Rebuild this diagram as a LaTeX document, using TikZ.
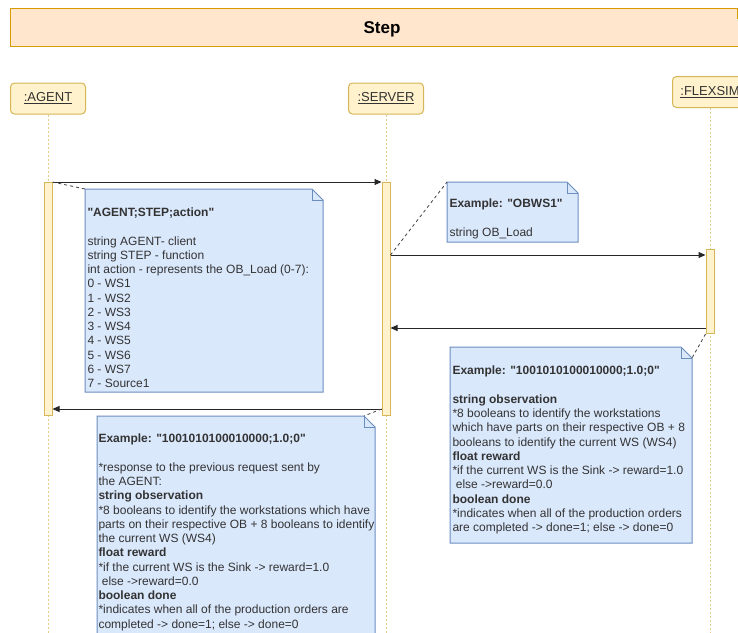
\documentclass[tikz,border=0pt]{standalone}
\usepackage{fontspec}
\setmainfont{Liberation Sans}
\usepackage{tikz}
\usetikzlibrary{positioning,arrows.meta,calc}
\definecolor{titlefill}{HTML}{FFE6CC}
\definecolor{titleline}{HTML}{D79B00}
\definecolor{headfill}{HTML}{FFF2CC}
\definecolor{headline}{HTML}{D6B656}
\definecolor{notefill}{HTML}{DAE8FC}
\definecolor{noteline}{HTML}{6C8EBF}
\definecolor{txt}{HTML}{333333}
\newcommand{\dq}{\textquotedbl}

\begin{document}
\begin{tikzpicture}[
    x=1pt, y=-1pt,
    >={Triangle[length=7pt,width=6pt]},
    line width=1pt,
    titlebar/.style={
        draw=titleline,
        fill=titlefill,
        minimum width=744pt,
        minimum height=38pt,
        font=\fontsize{17}{20}\selectfont\bfseries
    },
    head/.style={draw=headline, fill=headfill, rounded corners=4pt,
                 minimum width=75pt, minimum height=31pt, text=txt,
                 font=\fontsize{13}{15}\selectfont},
    actbar/.style={draw=headline, fill=headfill, minimum width=8pt,
                   inner sep=0pt, anchor=north},
    lifeline/.style={draw=headline!70, dash pattern=on 2pt off 2pt},
    msg/.style={draw=black!85, ->},
    link/.style={draw=black!75, dash pattern=on 3pt off 3pt, line width=0.8pt},
    note/.style={inner sep=0pt, outer sep=0pt, anchor=north west,
        append after command={\pgfextra{
            \draw[fill=notefill, draw=noteline]
                (\tikzlastnode.south west) -- (\tikzlastnode.north west)
                -- ([xshift=-11pt]\tikzlastnode.north east)
                -- ([yshift=-11pt]\tikzlastnode.north east)
                -- (\tikzlastnode.south east) -- cycle;
            \draw[draw=noteline] ([xshift=-11pt]\tikzlastnode.north east)
                |- ([yshift=-11pt]\tikzlastnode.north east);
        }}},
    notetext/.style={anchor=north west, inner sep=0pt, align=left, text=txt,
                     font=\fontsize{12}{14.25}\selectfont}
]

\useasboundingbox (0,0) rectangle (738,632);
\fill[white] (0,0) rectangle (738,632);
\clip (0,0) rectangle (738,632);

\node[titlebar, text depth=0pt, text height=12pt, anchor=north] (title) at (382,8) {Step};
\draw[draw=titleline] (737,19) -- (737,8.5);

\node[head] (agent) at (48,98.5) {\underline{:AGENT}};
\node[head] (server) at (386,98.5) {\underline{:SERVER}};
\node[head] (flexsim) at (710,92) {\underline{:FLEXSIM}};

\coordinate (bottom) at (0,640);
\draw[lifeline] (agent.south) -- (agent.south |- bottom);
\draw[lifeline] (server.south) -- (server.south |- bottom);
\draw[lifeline] (flexsim.south) -- (flexsim.south |- bottom);

% activations
\node[actbar, minimum height=233pt] (bar_agent) at (48,182) {};
\node[actbar, minimum height=233pt] (bar_server) at (386,182) {};
\node[actbar, minimum height=84pt] (bar_flex) at (710,249) {};

% messages
\draw[msg] (bar_agent.north east) -- (bar_server.north west);
\coordinate (fwd) at ([yshift=-6pt]bar_flex.north west);
\draw[msg] (bar_server.east |- fwd) -- (fwd);
\coordinate (back) at ([yshift=6pt]bar_flex.south west);
\draw[msg] (back) -- (bar_server.east |- back);
\coordinate (reply) at ([yshift=7pt]bar_server.south west);
\draw[msg] (reply) -- (bar_agent.east |- reply);

% notes
\node[note, minimum width=238pt, minimum height=203pt] (note_req) at (85,189) {};
\node[note, minimum width=131pt, minimum height=60pt] (note_fwd) at (447,182) {};
\node[note, minimum width=242pt, minimum height=196pt] (note_obs) at (450,347) {};
\node[note, minimum width=278pt, minimum height=240pt] (note_resp) at (97,416) {};

\draw[link] (bar_agent.north east) -- (note_req.north west);
\draw[link] (bar_server.east |- fwd) -- (note_fwd.north west);
\draw[link] (bar_flex.south west) -- ([yshift=-11pt]note_obs.north east);
\draw[link] (reply) -- ([xshift=-11pt]note_resp.north east);

\node[notetext] (txt_req) at ([xshift=2pt,yshift=-18.5pt]note_req.north west)
    {\textbf{\dq AGENT;STEP;action\dq}\\[14.25pt]
     string AGENT- client\\
     string STEP - function\\
     int action - represents the OB\_Load (0-7):\\
     0 - WS1\\ 1 - WS2\\ 2 - WS3\\ 3 - WS4\\ 4 - WS5\\ 5 - WS6\\ 6 - WS7\\
     7 - Source1};

\node[notetext] (txt_fwd) at ([xshift=2pt,yshift=-16.7pt]note_fwd.north west)
    {\textbf{Example: \dq OBWS1\dq}\\[14.25pt]
     string OB\_Load};

\node[notetext] (txt_obs) at ([xshift=2pt,yshift=-18.7pt]note_obs.north west)
    {\textbf{Example: \dq 1001010100010000;1.0;0\dq}\\[14.25pt]
     \textbf{string observation}\\
     *8 booleans to identify the workstations\\
     which have parts on their respective OB + 8\\
     booleans to identify the current WS (WS4)\\
     \textbf{float reward}\\
     *if the current WS is the Sink -> reward=1.0\\
     \ else ->reward=0.0\\
     \textbf{boolean done}\\
     *indicates when all of the production orders\\
     are completed -> done=1; else -> done=0};

\node[notetext] (txt_resp) at ([xshift=1pt,yshift=-17.7pt]note_resp.north west)
    {\textbf{Example: \dq 1001010100010000;1.0;0\dq}\\[14.25pt]
     *response to the previous request sent by\\
     the AGENT:\\
     \textbf{string observation}\\
     *8 booleans to identify the workstations which have\\
     parts on their respective OB + 8 booleans to identify\\
     the current WS (WS4)\\
     \textbf{float reward}\\
     *if the current WS is the Sink -> reward=1.0\\
     \ else ->reward=0.0\\
     \textbf{boolean done}\\
     *indicates when all of the production orders are\\
     completed -> done=1; else -> done=0};

\end{tikzpicture}
\end{document}
